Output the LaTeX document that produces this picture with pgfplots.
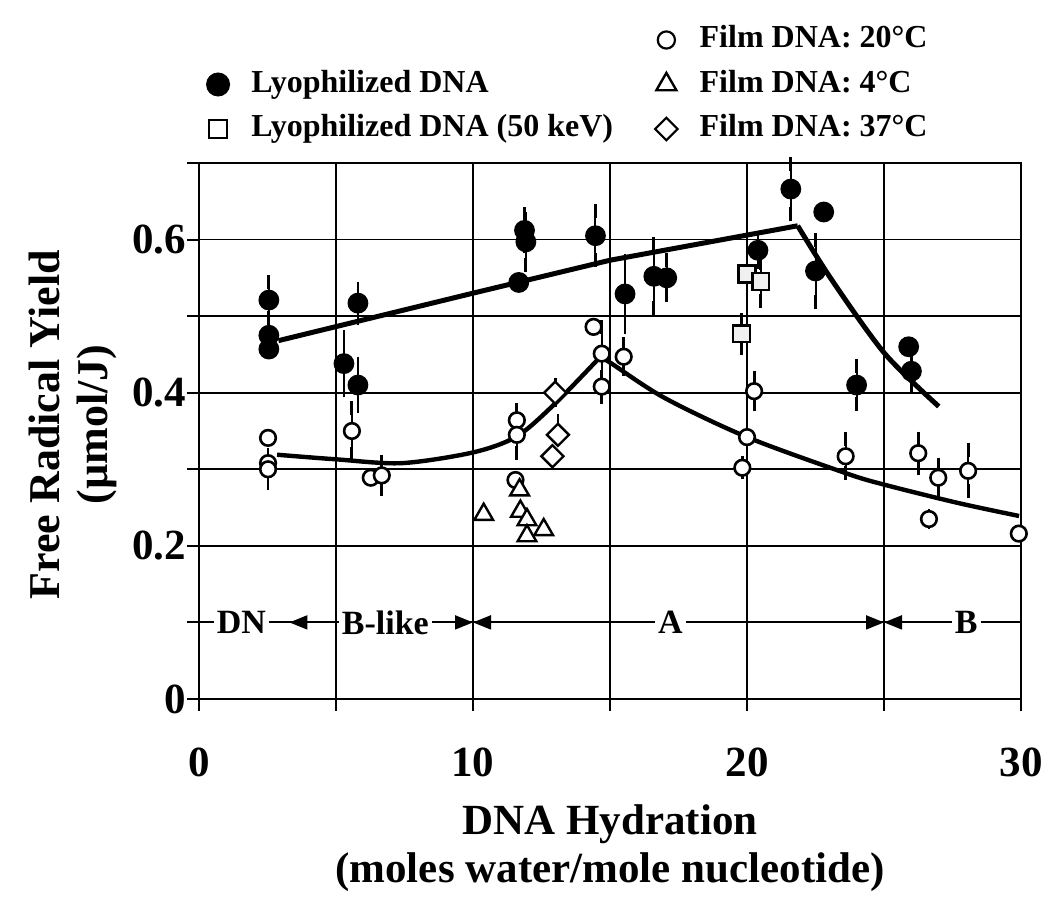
\documentclass[border=0pt]{standalone}
\usepackage{fontspec}
\setmainfont{Liberation Serif}
\usepackage{pgfplots}
\pgfplotsset{compat=1.18}
\usetikzlibrary{arrows.meta}

\pgfplotsset{
  lyo/.style={only marks, mark=*, mark size=4.8pt, mark options={fill=black, draw=black, line width=0.8pt}},
  lyofifty/.style={only marks, mark=square*, mark size=4.2pt, mark options={fill=gray!12, draw=black, line width=1.2pt}},
  filmtwenty/.style={only marks, mark=*, mark size=3.9pt, mark options={fill=white, draw=black, line width=1.3pt}},
  filmfour/.style={only marks, mark=triangle*, mark size=5.4pt, mark options={fill=white, draw=black, line width=1.2pt}},
  filmthirtyseven/.style={only marks, mark=square*, mark size=3.9pt, mark options={rotate=45, fill=white, draw=black, line width=1.2pt}},
  ebars/.style={error bars/.cd, y dir=both, y explicit,
    error bar style={line width=1pt, black},
    error mark options={black, line width=1.4pt, mark size=3.5pt}},
  limg/.style={legend image code/.code={\draw[##1] plot coordinates {(0.3cm,0cm)};}},
}

\begin{document}
\begin{tikzpicture}
\begin{axis}[
  scale only axis, width=411pt, height=268pt,
  xmin=0, xmax=30, ymin=0, ymax=0.7,
  xtick={0,5,10,15,20,25,30}, xticklabels={0,,10,,20,,30},
  ytick={0,0.1,0.2,0.3,0.4,0.5,0.6,0.7}, yticklabels={0,,0.2,,0.4,,0.6,},
  tick pos=left, tick align=outside, major tick length=6pt,
  grid=major, major grid style={black, line width=0.8pt},
  axis line style={line width=1.2pt},
  every tick/.style={black, line width=1pt},
  ticklabel style={font=\fontsize{21.5}{22}\selectfont\bfseries},
  /pgf/number format/assume math mode=true,
  xticklabel style={yshift=-15pt},
  yticklabel style={xshift=3pt},
  xlabel={DNA Hydration\\(moles water/mole nucleotide)},
  xlabel style={font=\fontsize{21.5}{24}\selectfont\bfseries, align=center, at={(axis description cs:0.5,-0.278)}, anchor=center},
  ylabel={Free Radical Yield\\(µmol/J)},
  ylabel style={font=\fontsize{22}{24}\selectfont\bfseries, align=center, at={(axis description cs:-0.153,0.512)}, anchor=center},
  clip=false,
  legend columns=2, legend cell align=left,
  legend style={draw=none, fill=none, inner sep=0pt, outer sep=0pt,
    at={(axis description cs:0,1)}, anchor=south west, xshift=1pt, yshift=9.5pt,
    font=\fontsize{16}{18}\selectfont\bfseries,
    nodes={inner sep=0pt, text height=11.5pt, text depth=3.5pt},
    row sep=7.25pt,
    /tikz/every odd column/.style={column sep=11pt},
    /tikz/every even column/.style={column sep=21pt}},
]
\addlegendimage{empty legend}\addlegendentry{}
\addlegendimage{filmtwenty, limg, mark size=4.3pt, mark options={fill=white, draw=black, line width=1.1pt}}\addlegendentry{Film DNA: 20°C}
\addlegendimage{lyo, limg, mark size=5.6pt}\addlegendentry{Lyophilized DNA}
\addlegendimage{filmfour, limg, mark size=5.8pt}\addlegendentry{Film DNA: 4°C}
\addlegendimage{lyofifty, limg, mark size=4.4pt, mark options={fill=white, draw=black, line width=1.1pt}}\addlegendentry{Lyophilized DNA (50 keV)}
\addlegendimage{filmthirtyseven, limg, mark size=4pt, mark options={rotate=45, fill=white, draw=black, line width=1.1pt}}\addlegendentry{Film DNA: 37°C}

% phase annotation row
\draw[line width=1pt] (axis cs:0,0.1) -- (axis cs:30,0.1);
\draw[line width=1pt, -{Triangle[length=9pt,width=7pt]}] (axis cs:5,0.1) -- (axis cs:3.3,0.1);
\draw[line width=1pt, -{Triangle[length=9pt,width=7pt]}] (axis cs:9,0.1) -- (axis cs:10,0.1);
\draw[line width=1pt, -{Triangle[length=9pt,width=7pt]}] (axis cs:11,0.1) -- (axis cs:10,0.1);
\draw[line width=1pt, -{Triangle[length=9pt,width=7pt]}] (axis cs:24,0.1) -- (axis cs:25,0.1);
\draw[line width=1pt, -{Triangle[length=9pt,width=7pt]}] (axis cs:26,0.1) -- (axis cs:25,0.1);
\node[fill=white, inner sep=1.5pt, font=\fontsize{17}{17}\selectfont\bfseries] at (axis cs:1.55,0.1) {DN};
\node[fill=white, inner sep=1.5pt, font=\fontsize{17}{17}\selectfont\bfseries] at (axis cs:6.8,0.1) {B-like};
\node[fill=white, inner sep=1.5pt, font=\fontsize{17}{17}\selectfont\bfseries] at (axis cs:17.2,0.1) {A};
\node[fill=white, inner sep=1.5pt, font=\fontsize{17}{17}\selectfont\bfseries] at (axis cs:28.0,0.1) {B};

% fitted curves
\addplot[forget plot, black, line width=2.5pt] coordinates {(2.9,0.468) (10,0.530) (15,0.573) (21.85,0.618)};
\addplot[forget plot, black, line width=2.5pt, smooth] coordinates {(21.85,0.618) (23.1,0.547) (25.03,0.451) (27.0,0.382)};
\addplot[forget plot, black, line width=2.2pt, smooth] coordinates {(2.85,0.319) (5,0.313) (7.4,0.308) (10,0.322) (11.6,0.343) (13.0,0.386) (14.65,0.447)};
\addplot[forget plot, black, line width=2.2pt, smooth] coordinates {(14.65,0.447) (15.06,0.438) (17,0.393) (20,0.342) (23.6,0.295) (25,0.28) (27.7,0.256) (29.93,0.239)};

% Lyophilized DNA
\addplot[forget plot, lyo, ebars] table[x=x, y=y, y error plus=ep, y error minus=em] {
x y ep em
2.55 0.521 0.023 0.023
2.55 0.475 0 0
2.55 0.457 0 0
5.80 0.517 0.019 0.019
5.29 0.438 0.035 0.035
5.80 0.410 0.027 0.027
11.88 0.612 0.021 0.021
11.93 0.597 0.030 0.030
11.67 0.544 0 0
14.47 0.605 0.032 0.032
15.55 0.529 0.043 0.043
16.60 0.552 0.042 0.042
17.07 0.550 0.023 0.023
20.40 0.586 0.015 0.015
21.60 0.666 0.033 0.033
22.80 0.636 0 0
22.50 0.559 0.040 0.040
24.00 0.410 0.025 0.025
25.90 0.460 0 0
26.00 0.428 0.020 0.020
};
% Lyophilized DNA (50 keV)
\addplot[forget plot, lyofifty, ebars] table[x=x, y=y, y error plus=ep, y error minus=em] {
x y ep em
20.00 0.555 0.017 0.017
20.50 0.545 0.025 0.025
19.80 0.477 0.018 0.018
};
% Film DNA 20 C
\addplot[forget plot, filmtwenty, ebars] table[x=x, y=y, y error plus=ep, y error minus=em] {
x y ep em
2.52 0.341 0 0
2.52 0.308 0 0
2.52 0.300 0.018 0.018
5.58 0.350 0.030 0.030
6.27 0.289 0 0
6.67 0.292 0.018 0.018
11.60 0.364 0.014 0
11.60 0.345 0 0.024
11.55 0.286 0 0
14.40 0.486 0 0
14.70 0.451 0.035 0.035
14.70 0.408 0.013 0.013
15.50 0.447 0.016 0.016
20.00 0.342 0 0
19.83 0.302 0.006 0.006
20.26 0.402 0.017 0.017
23.60 0.317 0.022 0.022
26.25 0.321 0.019 0.019
26.98 0.289 0.017 0.017
28.07 0.298 0.027 0.027
26.64 0.235 0.004 0.004
29.92 0.216 0 0
};
% Film DNA 4 C
\addplot[forget plot, filmfour] table[x=x, y=y] {
x y
10.39 0.241
11.70 0.273
11.73 0.245
11.97 0.234
11.97 0.213
12.58 0.221
};
% Film DNA 37 C
\addplot[forget plot, filmthirtyseven, ebars] table[x=x, y=y, y error plus=ep, y error minus=em] {
x y ep em
13.00 0.400 0.010 0.010
13.10 0.345 0.018 0
12.90 0.317 0 0
};
\end{axis}
\path (current axis.south west) +(-99.5pt,-106pt) (current axis.north east) +(14.5pt,81.5pt);
\end{tikzpicture}
\end{document}
